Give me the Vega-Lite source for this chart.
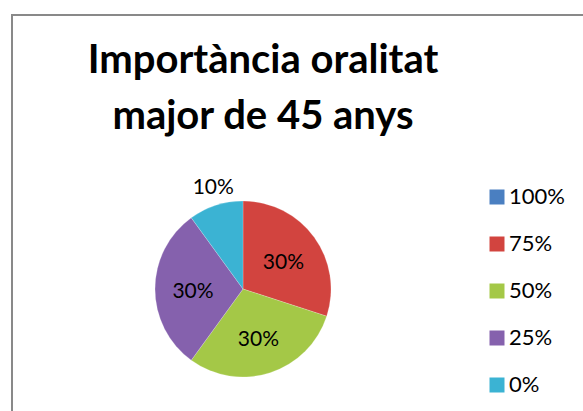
{
  "$schema": "https://vega.github.io/schema/vega-lite/v6.json",
  "autosize": "none",
  "width": 600,
  "height": 420,
  "padding": {"left": 12, "top": 15, "right": 0, "bottom": 0},
  "background": "white",
  "config": {
    "view": {"stroke": null},
    "font": "Lato"
  },
  "title": {
    "text": ["Importància oralitat", "major de 45 anys"],
    "font": "Lato",
    "fontSize": 40,
    "fontWeight": "bold",
    "color": "black",
    "anchor": "middle",
    "frame": "group",
    "orient": "top",
    "offset": 0,
    "baseline": "alphabetic",
    "lineHeight": 56,
    "dx": -49,
    "dy": 155
  },
  "layer": [
    {
      "data": {"values": [{"marc": "vora"}]},
      "mark": {"type": "rect", "fill": null, "stroke": "#898989", "strokeWidth": 2},
      "encoding": {}
    },
    {
      "data": {
        "values": [
          {"cat": "100%", "i": 1, "valor": 0.0},
          {"cat": "75%", "i": 2, "valor": 0.3},
          {"cat": "50%", "i": 3, "valor": 0.3},
          {"cat": "25%", "i": 4, "valor": 0.3},
          {"cat": "0%", "i": 5, "valor": 0.1}
        ]
      },
      "encoding": {
        "theta": {"field": "valor", "type": "quantitative", "stack": true},
        "order": {"field": "i", "type": "ordinal"}
      },
      "layer": [
        {
          "mark": {"type": "arc", "outerRadius": 88, "x": 231, "y": 274, "stroke": "#ffffff", "strokeWidth": 0.5, "strokeOpacity": 0.4},
          "encoding": {
            "color": {
              "field": "cat",
              "type": "nominal",
              "sort": ["100%", "75%", "50%", "25%", "0%"],
              "scale": {
                "domain": ["100%", "75%", "50%", "25%", "0%"],
                "range": ["#4a7fc1", "#d2443f", "#a4c847", "#8561ad", "#3bb3d3"]
              },
              "legend": {
                "title": null,
                "orient": "none",
                "legendX": 474,
                "legendY": 171,
                "symbolType": "square",
                "symbolSize": 225,
                "symbolStrokeWidth": 0,
                "labelFontSize": 22,
                "labelFont": "Lato",
                "labelColor": "black",
                "labelOffset": 1,
                "rowPadding": 25
              }
            }
          }
        },
        {
          "mark": {"type": "text", "radius": 50, "x": 231, "y": 274, "dy": 3, "fontSize": 21, "font": "Lato", "color": "black"},
          "encoding": {
            "text": {
              "condition": {"test": "datum.valor >= 0.2", "field": "valor", "type": "quantitative", "format": ".0%"},
              "value": ""
            }
          }
        },
        {
          "mark": {"type": "text", "radius": 106, "x": 231, "y": 274, "dx": 3, "fontSize": 21, "font": "Lato", "color": "black"},
          "encoding": {
            "text": {
              "condition": {"test": "datum.valor > 0 && datum.valor < 0.2", "field": "valor", "type": "quantitative", "format": ".0%"},
              "value": ""
            }
          }
        }
      ]
    }
  ]
}
